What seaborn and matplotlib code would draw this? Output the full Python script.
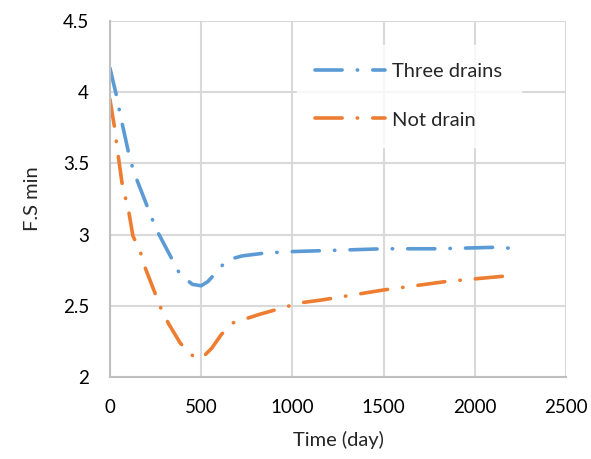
import pandas as pd
import seaborn as sns
import matplotlib.pyplot as plt

# values
days_three = [0, 37, 55, 110, 137, 228, 265, 384, 452, 500, 537, 600, 640, 725, 850, 988, 1250, 1500, 1800, 2100, 2256]
fs_three = [4.17, 3.97, 3.85, 3.53, 3.42, 3.12, 3.01, 2.72, 2.65, 2.64, 2.67, 2.76, 2.82, 2.85, 2.87, 2.88, 2.89, 2.90, 2.90, 2.91, 2.90]

days_none = [0, 27, 37, 71, 98, 126, 164, 192, 283, 323, 384, 430, 475, 510, 557, 612, 676, 822, 1042, 1160, 1497, 1842, 2182]
fs_none = [3.95, 3.74, 3.63, 3.32, 3.20, 2.99, 2.89, 2.77, 2.47, 2.37, 2.24, 2.17, 2.13, 2.14, 2.20, 2.30, 2.38, 2.44, 2.52, 2.54, 2.61, 2.67, 2.71]

df = pd.concat([
    pd.DataFrame({"Time (day)": days_three, "F.S min": fs_three, "case": "Three drains"}),
    pd.DataFrame({"Time (day)": days_none, "F.S min": fs_none, "case": "Not drain"}),
])

sns.set_style("white")
plt.rcParams['font.family'] = ['Lato', 'DejaVu Sans']

fig = plt.figure(figsize=(5.91, 4.59), dpi=100)
ax = fig.add_axes([0.186, 0.179, 0.772, 0.775])

sns.lineplot(data=df, x="Time (day)", y="F.S min", hue="case", sort=False,
             palette={"Three drains": "#5b9bd5", "Not drain": "#ed7d31"},
             linewidth=2.6, ax=ax)
for line in ax.get_lines():
    line.set_dashes([7.5, 4.2, 0.1, 4.2])
    line.set_dash_capstyle("round")

ax.set_xlim(0, 2500)
ax.set_ylim(2, 4.5)
ax.set_xticks([0, 500, 1000, 1500, 2000, 2500])
ax.set_yticks([2, 2.5, 3, 3.5, 4, 4.5])
ax.set_yticklabels(["2", "2.5", "3", "3.5", "4", "4.5"])
ax.grid(True, color="#d9d9d9", linewidth=1.5)
ax.set_axisbelow(True)
for s in ["top", "right"]:
    ax.spines[s].set_visible(False)
for s in ["left", "bottom"]:
    ax.spines[s].set_color("#bfbfbf")
    ax.spines[s].set_linewidth(1.5)
ax.tick_params(labelsize=13.5, colors="black", length=0)
ax.tick_params(axis="x", pad=16)
ax.tick_params(axis="y", pad=15)
ax.set_xlabel("Time (day)", fontsize=14.5, labelpad=11)
ax.set_ylabel("F.S min", fontsize=14.5, labelpad=16)

leg = ax.legend(loc="center", bbox_to_anchor=(0.655, 0.79), frameon=True,
                fontsize=14.5, handlelength=3.5, handletextpad=0.35,
                labelspacing=1.55, borderpad=0.9, fancybox=False)
leg.get_frame().set_facecolor("white")
leg.get_frame().set_edgecolor("white")
for h in leg.get_lines():
    h.set_linewidth(2.6)
    h.set_dashes([7.5, 4.2, 0.1, 4.2])
    h.set_dash_capstyle("round")

fig.savefig("out.png", dpi=100)
